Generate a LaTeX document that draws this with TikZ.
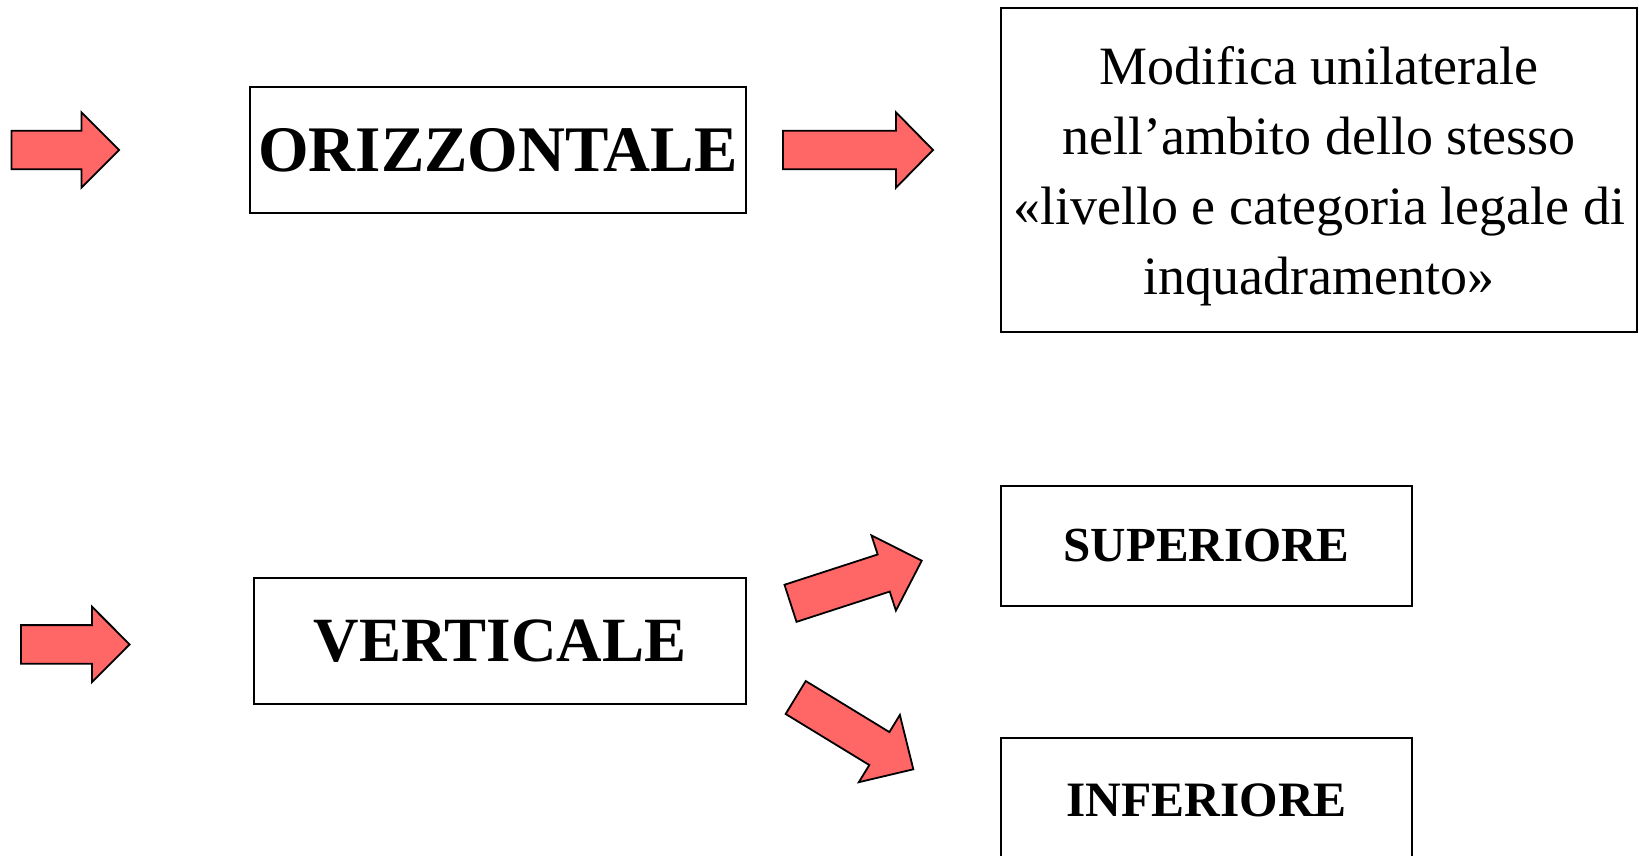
\documentclass[tikz,border=0pt]{standalone}
\usepackage{fontspec}
\setmainfont{Liberation Serif}
\usepackage{xcolor}
\usepackage{tikz}
\usetikzlibrary{calc}

\definecolor{pfeilrot}{RGB}{255,102,102}
\tikzset{
  kasten/.style={draw=black,line width=1.6pt,fill=white,inner sep=0pt,align=center},
  pfeil/.style={draw=black,line width=1.8pt,fill=pfeilrot,line join=miter}
}

\begin{document}
\begin{tikzpicture}[x=1pt,y=-1pt]

\clip (0,0) rectangle (1639,855);													% Bildrand

\node[kasten,minimum width=496pt,minimum height=126pt,font=\fontsize{65}{76}\selectfont\bfseries] (orizz) at (498,150) {ORIZZONTALE};	% Kasten oben
\node[kasten,minimum width=636pt,minimum height=324pt,font=\fontsize{54}{70}\selectfont] (modifica) at (1319,170) {};	% Kasten rechts oben
\node[align=center,inner sep=0pt,font=\fontsize{54}{70}\selectfont] (modtext) at (1319,176) {Modifica unilaterale\\nell’ambito dello stesso\\«livello e categoria legale di\\inquadramento»};	% Text rechts oben

\node[kasten,minimum width=492pt,minimum height=126pt,font=\fontsize{63}{74}\selectfont\bfseries] (vert) at (500,641) {VERTICALE};	% Kasten unten
\node[kasten,minimum width=411pt,minimum height=120pt,font=\fontsize{49}{58}\selectfont\bfseries] (sup) at (1206.5,546) {SUPERIORE};	% Kasten superiore
\node[kasten,minimum width=411pt,minimum height=124pt,font=\fontsize{49.5}{58}\selectfont\bfseries] (inf) at (1206.5,800) {INFERIORE};	% Kasten inferiore

\draw[pfeil,shift={(11.5,150)}] (0,-19.3) -- (70,-19.3) -- (70,-37.7) -- (107.7,0) -- (70,37.7) -- (70,19.3) -- (0,19.3) -- cycle;	% Pfeil links oben
\draw[pfeil,shift={(783,150)}] (0,-19.3) -- (113,-19.3) -- (113,-37.7) -- (150,0) -- (113,37.7) -- (113,19.3) -- (0,19.3) -- cycle;	% Pfeil mitte oben
\draw[pfeil,shift={(21,644.4)}] (0,-19.3) -- (71,-19.3) -- (71,-37.7) -- (108.6,0) -- (71,37.7) -- (71,19.3) -- (0,19.3) -- cycle;	% Pfeil links unten

\draw[pfeil,shift={(790.5,603.3)},rotate=18] (0,-19.5) -- (98,-19.5) -- (98,-39.5) -- (138,0) -- (98,39.5) -- (98,19.5) -- (0,19.5) -- cycle;	% Pfeil nach superiore
\draw[pfeil,shift={(795.7,697.5)},rotate=-31.4] (0,-19.3) -- (98,-19.3) -- (98,-39.4) -- (137.8,0) -- (98,39.4) -- (98,19.3) -- (0,19.3) -- cycle;	% Pfeil nach inferiore

\end{tikzpicture}
\end{document}
